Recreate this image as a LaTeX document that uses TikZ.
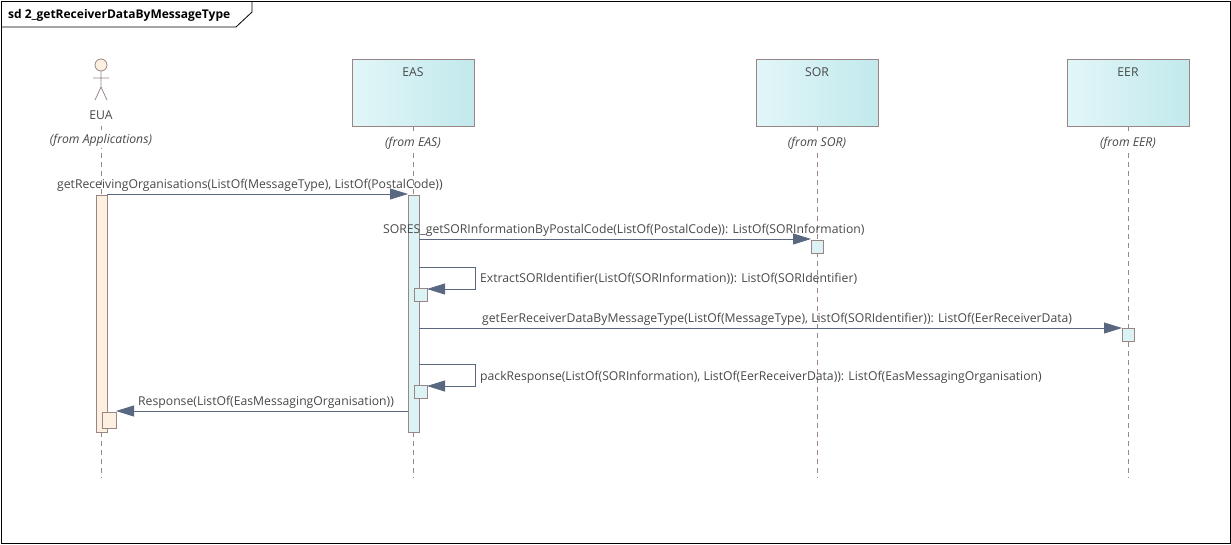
\documentclass[tikz,border=0pt]{standalone}
\usepackage{fontspec}
\setmainfont{Open Sans}
\usetikzlibrary{arrows.meta}
\definecolor{msg}{HTML}{5A6780}
\definecolor{brd}{HTML}{9A8585}
\definecolor{life}{HTML}{A08585}
\definecolor{boxL}{HTML}{E2F6F8}
\definecolor{boxR}{HTML}{C2E9EC}
\definecolor{actF}{HTML}{DCF3F5}
\definecolor{creamF}{HTML}{FDF0E0}
\definecolor{txt}{HTML}{484848}
\tikzset{
 x=1pt,y=-1pt,
 lbl/.style={font=\fontsize{12.2}{14}\selectfont,text=txt,inner sep=0pt,anchor=base west},
 from/.style={font=\fontsize{12.2}{14}\selectfont\itshape,text=txt,inner sep=0pt,anchor=base},
 part/.style={draw=brd,line width=0.8pt,left color=boxL,right color=boxR,shading angle=90},
 lifel/.style={draw=life,dash pattern=on 5pt off 4pt,line width=0.7pt},
 act/.style={draw=brd,fill=actF,line width=0.7pt},
 msgl/.style={draw=msg,line width=0.8pt,-{Triangle[length=18pt,width=11pt]}},
}
\begin{document}
\begin{tikzpicture}
\useasboundingbox (0,0) rectangle (1231,544);
\draw[black,line width=0.8pt] (1,1) rectangle (1230,543);
\draw[black,line width=0.8pt] (1,27) -- (236,27) -- (252,12) -- (252,1);
\node[font=\fontsize{12}{14}\selectfont\bfseries,inner sep=0pt,anchor=base west] (title) at (8,18) {sd 2\_getReceiverDataByMessageType};
% lifelines
\coordinate (euaT) at (101,126); \coordinate (euaB) at (101,478);
\coordinate (easT) at (413,126); \coordinate (easB) at (413,478);
\coordinate (sorT) at (817,126); \coordinate (sorB) at (817,478);
\coordinate (eerT) at (1128,126); \coordinate (eerB) at (1128,478);
\draw[lifel] (euaT) -- (euaB);
\draw[lifel] (easT) -- (easB);
\draw[lifel] (sorT) -- (sorB);
\draw[lifel] (eerT) -- (eerB);
% actor
\fill[white] (80,104) rectangle (122,122);
\fill[white] (45,130) rectangle (160,148);
\draw[brd,line width=0.8pt,fill=creamF] (101,65) circle (6);
\draw[brd,line width=0.8pt] (101,71) -- (101,87) (93,78) -- (109,78) (95,100) -- (101,87) -- (107,100);
\node[lbl,anchor=base] (eua) at (101,119) {EUA};
% boxes
\node[part,minimum width=122pt,minimum height=67pt,inner sep=0pt] (eas) at (413,92.5) {};
\node[part,minimum width=122pt,minimum height=67pt,inner sep=0pt] (sor) at (817,92.5) {};
\node[part,minimum width=122pt,minimum height=67pt,inner sep=0pt] (eer) at (1128,92.5) {};
\node[lbl,anchor=base] at (413,76) {EAS};
\node[lbl,anchor=base] at (817,76) {SOR};
\node[lbl,anchor=base] at (1128,76) {EER};
\fill[white] (378,134) rectangle (448,151);
\fill[white] (783,134) rectangle (851,151);
\fill[white] (1097,134) rectangle (1159,151);
\node[from] at (101,143) {(from Applications)};
\node[from] at (413,146) {(from EAS)};
\node[from] at (817,146) {(from SOR)};
\node[from] at (1128,146) {(from EER)};
% activations
\node[draw=brd,fill=creamF,line width=0.7pt,minimum width=11pt,minimum height=237pt,inner sep=0pt,anchor=north west] (a1) at (96,195) {};
\node[draw=brd,fill=creamF,line width=0.7pt,minimum width=14pt,minimum height=16pt,inner sep=0pt,anchor=north west] (a1b) at (102,412) {};
\node[act,minimum width=11pt,minimum height=237pt,inner sep=0pt,anchor=north west] (a2) at (408,195) {};
\node[act,minimum width=13pt,minimum height=13pt,inner sep=0pt,anchor=north west] (x1) at (414,288) {};
\node[act,minimum width=13pt,minimum height=13pt,inner sep=0pt,anchor=north west] (x2) at (414,385) {};
\node[act,minimum width=12pt,minimum height=13pt,inner sep=0pt,anchor=north west] (s1) at (811,240) {};
\node[act,minimum width=12pt,minimum height=13pt,inner sep=0pt,anchor=north west] (e1) at (1122,328) {};
% messages
\draw[msgl] (107,194) -- (408,194);
\node[lbl] at (57,188) {getReceivingOrganisations(ListOf(MessageType), ListOf(PostalCode))};
\draw[msgl] (419,239) -- (811,239);
\node[lbl] at (383,233) {SORES\_getSORInformationByPostalCode(ListOf(PostalCode)): ListOf(SORInformation)};
\draw[msgl] (419,267) -- (475,267) -- (475,289) -- (427,289);
\node[lbl] at (480,282) {ExtractSORIdentifier(ListOf(SORInformation)): ListOf(SORIdentifier)};
\draw[msgl] (419,328) -- (1122,328);
\node[lbl] at (482,322) {getEerReceiverDataByMessageType(ListOf(MessageType), ListOf(SORIdentifier)): ListOf(EerReceiverData)};
\draw[msgl] (419,364) -- (475,364) -- (475,386) -- (427,386);
\node[lbl] at (480,380) {packResponse(ListOf(SORInformation), ListOf(EerReceiverData)): ListOf(EasMessagingOrganisation)};
\draw[msgl] (408,411) -- (116,411);
\node[lbl] at (138,405) {Response(ListOf(EasMessagingOrganisation))};
\end{tikzpicture}
\end{document}
